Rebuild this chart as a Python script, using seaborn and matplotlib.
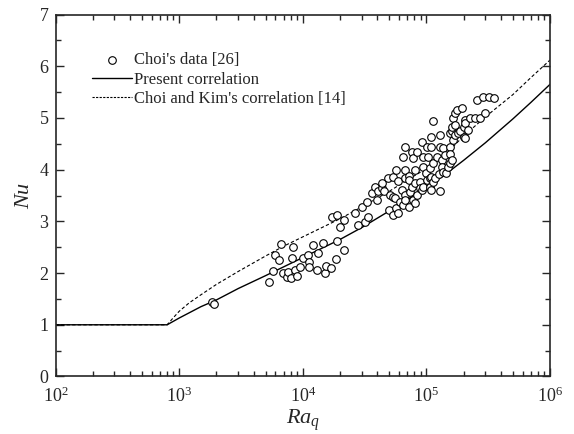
import numpy as np
import pandas as pd
import matplotlib
matplotlib.use("Agg")
import matplotlib.pyplot as plt
import matplotlib.ticker as mticker
import seaborn as sns

# ---- data ----
ra_data = [1850, 1900, 5370, 5716, 5970, 6430, 6670, 6880, 7420, 7650, 8040, 8150, 8400, 8660,
           9040, 9510, 10100, 11100, 11300, 11300, 12200, 13000, 13400, 14500, 15100, 15400,
           16900, 17200, 18600, 18800, 18800, 20000, 21600, 21600, 26500, 28200, 30000, 31900,
           33300, 34000, 36100, 38400, 39700, 40600, 43500, 44000, 45100, 49300, 50200, 50800,
           54000, 54000, 54000, 55800, 57000, 57000, 59000, 59000, 61300, 63000, 65000, 65000,
           67300, 67300, 67300, 67300, 67300, 72000, 72000, 72000, 73800, 76200, 76200, 78500,
           78500, 81000, 81000, 81000, 83600, 83600, 89000, 89000, 92000, 92000, 94000, 94000,
           94000, 99500, 101000, 101000, 104000, 107000, 107000, 107000, 110000, 110000, 110000,
           110000, 114000, 114000, 114000, 118000, 122000, 126000, 129000, 129000, 129000,
           133000, 133000, 137000, 137000, 142000, 145000, 150000, 155000, 155000, 155000,
           155000, 160000, 160000, 160000, 165000, 165000, 171000, 171000, 171000, 176000,
           181000, 187000, 193000, 200000, 200000, 206000, 206000, 206000, 219000, 226000,
           248000, 256000, 272000, 287000, 298000, 320000, 355000]
nu_data = [1.45, 1.40, 1.82, 2.04, 2.35, 2.25, 2.56, 2.00, 1.92, 2.03, 1.90, 2.29, 2.51, 2.06,
           1.95, 2.12, 2.29, 2.35, 2.22, 2.12, 2.54, 2.06, 2.39, 2.58, 2.01, 2.14,
           2.09, 3.09, 2.27, 2.62, 3.12, 2.90, 3.03, 2.45, 3.16, 2.93, 3.28, 2.99,
           3.38, 3.09, 3.54, 3.67, 3.41, 3.58, 3.64, 3.75, 3.59, 3.83, 3.22, 3.51,
           3.47, 3.85, 3.12, 3.45, 3.99, 3.25, 3.79, 3.16, 3.38, 3.61, 4.24, 3.32,
           4.43, 3.99, 3.83, 3.51, 3.41, 3.88, 3.80, 3.28, 3.57, 4.35, 3.67, 4.22,
           3.41, 3.99, 3.74, 3.35, 4.35, 3.51, 3.77, 3.64, 4.54, 3.61, 4.25, 4.06,
           3.67, 3.93, 4.44, 3.80, 4.25, 4.03, 3.83, 3.67, 4.63, 4.44, 3.86,
           3.61, 4.94, 4.12, 3.77, 3.83, 4.25, 3.92, 3.58, 4.67, 4.44,
           4.19, 4.06, 4.41, 3.96, 4.28, 3.93, 4.06, 4.44, 4.30, 4.12,
           4.70, 4.74, 4.83, 4.19, 4.57, 4.99, 5.09, 4.67, 4.86, 5.15,
           4.70, 4.74, 5.19, 4.83, 4.63, 4.96, 4.61, 4.90, 4.77, 4.99,
           4.99, 5.35, 4.99, 5.41, 5.09, 5.40, 5.38]

ra_present = [100, 800, 1000, 1500, 2000, 3000, 5000, 7000, 10000, 20000, 30000, 50000,
              70000, 100000, 150000, 200000, 300000, 500000, 700000, 1000000]
nu_present = [1.0, 1.0, 1.13, 1.35, 1.48, 1.70, 1.95, 2.12, 2.30, 2.65, 2.88, 3.20,
              3.42, 3.65, 3.95, 4.18, 4.52, 4.98, 5.30, 5.65]

ra_choikim = [100, 800, 900, 1000, 1200, 1500, 2000, 3000, 5000, 7000, 10000, 20000, 30000,
              50000, 70000, 100000, 150000, 200000, 300000, 500000, 700000, 1000000]
nu_choikim = [1.0, 1.0, 1.14, 1.26, 1.42, 1.58, 1.78, 2.03, 2.33, 2.52, 2.70, 3.05, 3.28,
              3.58, 3.80, 4.02, 4.35, 4.65, 5.02, 5.45, 5.78, 6.12]

x_ticks = [1e2, 1e3, 1e4, 1e5, 1e6]
y_ticks = [0, 1, 2, 3, 4, 5, 6, 7]

# ---- style ----
sns.set_style("ticks")
plt.rcParams["font.family"] = ["Liberation Serif", "DejaVu Serif"]
plt.rcParams["mathtext.fontset"] = "custom"
plt.rcParams["mathtext.rm"] = "Liberation Serif"
plt.rcParams["mathtext.it"] = "Liberation Serif:italic"
plt.rcParams["mathtext.bf"] = "Liberation Serif:bold"

fig = plt.figure(figsize=(5.74, 4.34), dpi=100)
ax = fig.add_axes([0.0967, 0.1325, 0.8615, 0.834])

df_sc = pd.DataFrame({"Ra": ra_data, "Nu": nu_data})
df_p = pd.DataFrame({"Ra": ra_present, "Nu": nu_present})
df_c = pd.DataFrame({"Ra": ra_choikim, "Nu": nu_choikim})

sns.scatterplot(data=df_sc, x="Ra", y="Nu", ax=ax, marker="o", s=30,
                facecolor="white", edgecolor="black", linewidth=0.8,
                label="Choi's data [26]", zorder=3)
sns.lineplot(data=df_p, x="Ra", y="Nu", ax=ax, color="black", linewidth=1.0,
             estimator=None, sort=True, label="Present correlation", zorder=2)
sns.lineplot(data=df_c, x="Ra", y="Nu", ax=ax, color="black", linewidth=0.8,
             estimator=None, sort=True, label="Choi and Kim's correlation [14]", zorder=2)
ax.lines[-1].set_dashes([3, 2])

ax.set_xscale("log")
ax.set_xlim(1e2, 1e6)
ax.set_ylim(0, 7)
ax.set_xticks(x_ticks)
ax.set_yticks(y_ticks)
ax.xaxis.set_minor_locator(mticker.LogLocator(base=10, subs=np.arange(2, 10), numticks=20))
ax.xaxis.set_minor_formatter(mticker.NullFormatter())
ax.yaxis.set_minor_locator(mticker.MultipleLocator(0.5))

ax.tick_params(which="both", direction="in", top=True, right=True, labelsize=13)
ax.tick_params(axis="x", which="major", pad=7)
ax.tick_params(axis="y", which="major", pad=5)
ax.tick_params(which="major", length=6, width=1.0)
ax.tick_params(which="minor", length=3.5, width=1.0)
for sp in ax.spines.values():
    sp.set_linewidth(1.2)

ax.set_xlabel(r"$Ra_q$", fontsize=16, labelpad=1)
ax.set_ylabel(r"$Nu$", fontsize=16, labelpad=4)

leg = ax.legend(loc="upper left", bbox_to_anchor=(0.06, 0.915), frameon=False,
                fontsize=12, handlelength=2.4, handletextpad=0.15, labelspacing=0.22,
                borderaxespad=0)
leg.legend_handles[1].set_linestyle("-")
leg.legend_handles[2].set_dashes([2, 1.2])

fig.savefig("out.png", dpi=100)
